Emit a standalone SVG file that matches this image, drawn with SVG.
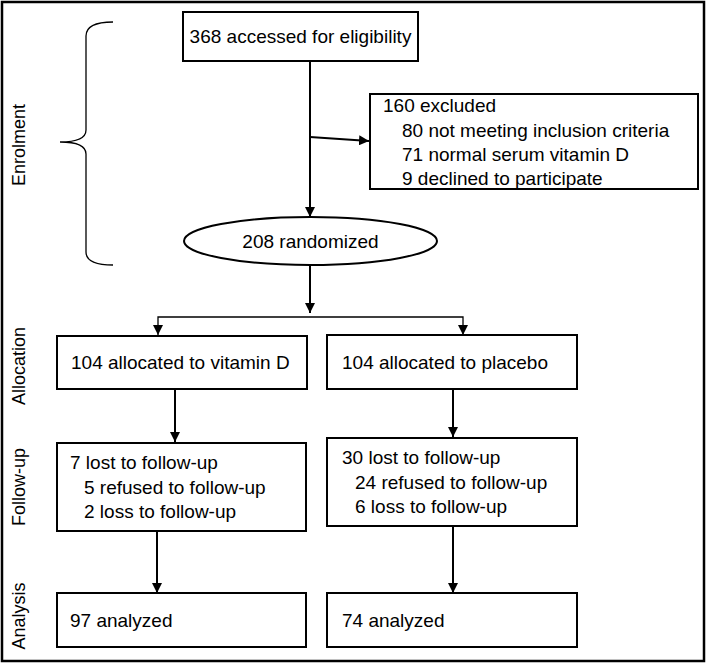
<svg xmlns="http://www.w3.org/2000/svg" width="709" height="664" viewBox="0 0 709 664">
<style>
.box{fill:#fff;stroke:#000;stroke-width:2}
.t{font-family:"Liberation Sans",Arial,sans-serif;font-size:19px;fill:#000}
.side{font-family:"Liberation Sans",Arial,sans-serif;font-size:18px;fill:#000;text-anchor:middle}
.c{fill:none;stroke:#000;stroke-width:2}
.c1{fill:none;stroke:#000;stroke-width:1.3}
</style>
<defs>
<marker id="ah" viewBox="0 0 10 10" refX="10" refY="5" markerWidth="10" markerHeight="10" markerUnits="userSpaceOnUse" orient="auto">
<path d="M0,0 L10,5 L0,10 Z" fill="#000"/>
</marker>
</defs>
<rect x="0" y="0" width="709" height="664" fill="#fff"/>
<rect x="2" y="2" width="702" height="659" fill="none" stroke="#000" stroke-width="2.5"/>
<g id="labels">
<text class="side" transform="translate(25,145) rotate(-90)">Enrolment</text>
<text class="side" transform="translate(25,366) rotate(-90)">Allocation</text>
<text class="side" transform="translate(25,487) rotate(-90)">Follow-up</text>
<text class="side" transform="translate(25,616) rotate(-90)">Analysis</text>
</g>
<g id="brace">
<path class="c1" d="M113,22 C95,22 86,26 86,36 L86,130 C86,138 78,142 60,142 C78,142 86,146 86,154 L86,252 C86,261 95,265 113,265"/>
</g>
<g id="connectors">
<path class="c" d="M310,61 L310,217" marker-end="url(#ah)"/>
<path class="c" d="M310,137 L369,141" marker-end="url(#ah)"/>
<path class="c" d="M310,265 L310,313" marker-end="url(#ah)"/>
<path class="c1" d="M158,335 L158,317 L463,317 L463,335" />
<path d="M153,325 L163,325 L158,335 Z" fill="#000"/>
<path d="M458,325 L468,325 L463,335 Z" fill="#000"/>
<path class="c" d="M175,389 L175,442" marker-end="url(#ah)"/>
<path class="c" d="M453,389 L453,437" marker-end="url(#ah)"/>
<path class="c" d="M157,531 L157,593" marker-end="url(#ah)"/>
<path class="c" d="M453,526 L453,593" marker-end="url(#ah)"/>
</g>
<g id="n-assessed">
<rect class="box" x="183" y="12" width="235" height="49"/>
<text class="t" x="300.5" y="43" text-anchor="middle">368 accessed for eligibility</text>
</g>
<g id="n-excluded">
<rect class="box" x="370" y="94" width="328" height="95"/>
<text class="t" x="383" y="112">160 excluded</text>
<text class="t" x="402" y="137">80 not meeting inclusion criteria</text>
<text class="t" x="402" y="161">71 normal serum vitamin D</text>
<text class="t" x="402" y="185">9 declined to participate</text>
</g>
<g id="n-randomized">
<ellipse class="box" cx="310.5" cy="241" rx="126.5" ry="24"/>
<text class="t" x="310.5" y="248" text-anchor="middle">208 randomized</text>
</g>
<g id="n-alloc-vitd">
<rect class="box" x="57" y="336" width="250" height="53"/>
<text class="t" x="71" y="369">104 allocated to vitamin D</text>
</g>
<g id="n-alloc-placebo">
<rect class="box" x="327" y="335" width="250" height="54"/>
<text class="t" x="342" y="369">104 allocated to placebo</text>
</g>
<g id="n-fu-vitd">
<rect class="box" x="57" y="443" width="249" height="88"/>
<text class="t" x="70" y="469">7 lost to follow-up</text>
<text class="t" x="84" y="494">5 refused to follow-up</text>
<text class="t" x="84" y="518">2 loss to follow-up</text>
</g>
<g id="n-fu-placebo">
<rect class="box" x="327" y="438" width="250" height="88"/>
<text class="t" x="342" y="464">30 lost to follow-up</text>
<text class="t" x="355" y="489">24 refused to follow-up</text>
<text class="t" x="355" y="513">6 loss to follow-up</text>
</g>
<g id="n-an-vitd">
<rect class="box" x="57" y="593" width="249" height="54"/>
<text class="t" x="70" y="627">97 analyzed</text>
</g>
<g id="n-an-placebo">
<rect class="box" x="327" y="593" width="250" height="54"/>
<text class="t" x="342" y="627">74 analyzed</text>
</g>
</svg>
